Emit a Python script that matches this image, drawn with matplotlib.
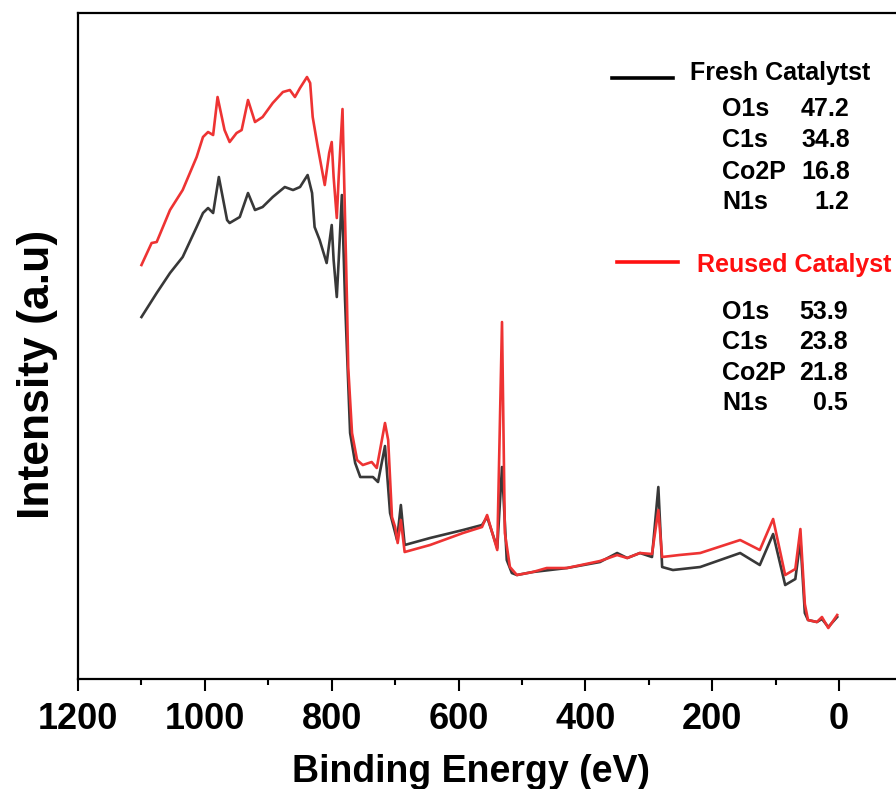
import matplotlib
matplotlib.use("Agg")
import matplotlib.pyplot as plt

plt.rcParams['font.family'] = ['Liberation Sans', 'DejaVu Sans']
plt.rcParams['font.weight'] = 'bold'

# binding energy (eV) and intensity (a.u.)
fresh_ev = [1100, 1076, 1055, 1035, 1013, 1003, 995, 987, 978, 965, 961, 945, 932, 921,
            909, 893, 874, 861, 850, 838, 831, 827, 819, 808, 800, 797, 792, 789, 784,
            779, 771, 763, 755, 735, 727, 716, 708, 697, 691, 685, 645, 593, 563, 555,
            539, 531.5, 524, 516, 508, 483, 429, 377, 350, 334, 314, 295, 285, 279, 262,
            219, 156, 125, 104, 85, 69, 61, 54, 49, 35, 27, 17, 3]
fresh_int = [362, 386, 406, 422, 452, 466, 471, 466, 502, 459, 456, 462, 486, 469,
             472, 482, 492, 489, 492, 504, 486, 452, 439, 416, 454, 419, 382, 419, 484,
             379, 246, 216, 202, 202, 197, 233, 166, 139, 174, 134, 141, 149, 154, 162,
             131, 212, 119, 106, 104, 107, 111, 117, 126, 121, 126, 122, 192, 112, 109,
             112, 126, 114, 145, 94, 100, 139, 66, 59, 57, 60, 52, 62]

reused_ev = [1100, 1084, 1076, 1055, 1035, 1013, 1003, 995, 987, 980, 969, 961, 950, 942,
             932, 921, 909, 893, 877, 866, 858, 850, 839, 834, 830, 822, 811, 804, 800,
             797, 792, 789, 783, 776, 774, 768, 760, 751, 737, 729, 716, 711, 705, 700,
             696, 691, 685, 645, 593, 563, 555, 539, 531.5, 527, 519, 508, 483, 461, 429,
             377, 350, 334, 314, 295, 285, 279, 252, 219, 156, 125, 104, 85, 69, 61, 54,
             49, 35, 27, 17, 3]
reused_int = [414, 436, 437, 469, 489, 522, 542, 547, 544, 582, 549, 537, 546, 549,
              579, 557, 562, 576, 587, 589, 582, 591, 602, 596, 562, 532, 494, 526, 537,
              502, 461, 502, 570, 379, 312, 246, 219, 214, 217, 211, 256, 239, 162, 152,
              136, 159, 127, 134, 146, 152, 164, 129, 357, 146, 112, 104, 107, 111, 111,
              118, 124, 121, 126, 125, 169, 122, 124, 126, 139, 129, 160, 104, 110, 150, 75,
              59, 57, 62, 51, 64]

fresh_label = "Fresh Catalytst"
reused_label = "Reused Catalyst"
elements = ["O1s", "C1s", "Co2P", "N1s"]
fresh_comp = ["47.2", "34.8", "16.8", "1.2"]
reused_comp = ["53.9", "23.8", "21.8", "0.5"]

black = '#383838'
red = '#ee3333'

fig = plt.figure(figsize=(8.96, 7.89), dpi=100)
ax = fig.add_axes([0.0871, 0.1394, 0.93, 0.8441])
# x scale matches 0.634 px per eV; right spine lies beyond the picture
ax.plot(fresh_ev, fresh_int, color=black, lw=1.9)
ax.plot(reused_ev, reused_int, color=red, lw=1.9)

ax.set_xlim(1200, 1200 - 0.93 * 896 / 0.6342)
ax.set_ylim(0, 666)
ax.set_xticks([1200, 1000, 800, 600, 400, 200, 0])
ax.set_xticks([1100, 900, 700, 500, 300, 100], minor=True)
ax.set_yticks([])
ax.tick_params(axis='x', which='major', direction='out', length=8.5, width=1.5,
               labelsize=26, pad=8)
ax.tick_params(axis='x', which='minor', direction='out', length=4.5, width=1.5)
for lab in ax.get_xticklabels():
    lab.set_fontweight('bold')
for sp in ax.spines.values():
    sp.set_linewidth(1.6)

ax.set_xlabel("Binding Energy (eV)", fontsize=27, fontweight='bold')
ax.xaxis.set_label_coords(0.477 * 0.9201 / 0.93, -0.112)
ax.set_ylabel("Intensity (a.u)", fontsize=32, fontweight='bold')
ax.yaxis.set_label_coords(-0.024, 0.458)

fs = 18
# composition legend (axes coords, computed for the original 0.9201 width)
def axx(v):
    return v * 0.9201 / 0.93

ax.plot([axx(0.648), axx(0.722)], [0.9024, 0.9024], color='black', lw=2.6,
        transform=ax.transAxes)
ax.text(axx(0.742), 0.910, fresh_label, transform=ax.transAxes, fontsize=fs,
        fontweight='bold', ha='left', va='center', color='black')
for i, (el, v) in enumerate(zip(elements, fresh_comp)):
    y = [0.856, 0.809, 0.761, 0.716][i]
    ax.text(axx(0.781), y, el, transform=ax.transAxes, fontsize=fs, fontweight='bold',
            ha='left', va='center')
    ax.text(axx(0.936), y, v, transform=ax.transAxes, fontsize=fs, fontweight='bold',
            ha='right', va='center')

ax.plot([axx(0.654), axx(0.728)], [0.626, 0.626], color='#ff1010', lw=2.6,
        transform=ax.transAxes)
ax.text(axx(0.751), 0.622, reused_label, transform=ax.transAxes, fontsize=fs,
        fontweight='bold', ha='left', va='center', color='#ff1010')
for i, (el, v) in enumerate(zip(elements, reused_comp)):
    y = [0.551, 0.506, 0.459, 0.414][i]
    ax.text(axx(0.781), y, el, transform=ax.transAxes, fontsize=fs, fontweight='bold',
            ha='left', va='center')
    ax.text(axx(0.934), y, v, transform=ax.transAxes, fontsize=fs, fontweight='bold',
            ha='right', va='center')

fig.savefig("out.png", dpi=100)
